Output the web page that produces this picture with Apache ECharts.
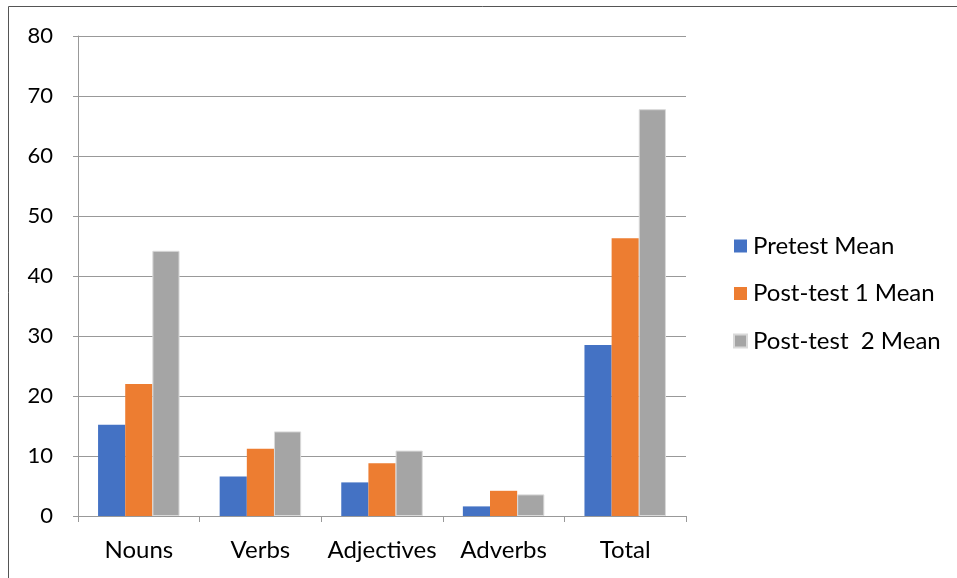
<!DOCTYPE html>
<html><head><meta charset="utf-8">
<script src="https://cdn.jsdelivr.net/npm/echarts@6/dist/echarts.min.js"></script>
<style>html,body{margin:0;padding:0;background:#fff}#c{width:957px;height:578px}</style>
</head><body><div id="c"></div>
<script>
const categories = ['Nouns', 'Verbs', 'Adjectives', 'Adverbs', 'Total'];
const pretest = [15.2, 6.6, 5.6, 1.6, 28.5];
const post1 = [22.0, 11.2, 8.8, 4.2, 46.3];
const post2 = [44.2, 14.1, 10.9, 3.6, 67.8];
const seriesNames = ['Pretest Mean', 'Post-test 1 Mean', 'Post-test  2 Mean'];
const yTicks = [0, 10, 20, 30, 40, 50, 60, 70, 80];

const font = 'Lato, "Open Sans", sans-serif';
const chart = echarts.init(document.getElementById('c'));
const colors = ['#4472C4', '#ED7D31', '#A5A5A5'];
chart.setOption({
  animation: false,
  color: colors,
  grid: { left: 78, right: 271, top: 36, bottom: 62, containLabel: false },
  legend: {
    orient: 'vertical', left: 728, top: 229,
    itemWidth: 13, itemHeight: 13, itemGap: 23.5,
    icon: 'rect',
    textStyle: { fontFamily: font, fontSize: 24, lineHeight: 24, color: '#000', padding: [0,0,0,1] },
    data: seriesNames
  },
  xAxis: {
    type: 'category', data: categories,
    axisLine: { lineStyle: { color: '#999', width: 1 } },
    axisTick: { show: true, length: 6, lineStyle: { color: '#999' } },
    axisLabel: { fontFamily: font, fontSize: 24, color: '#000', margin: 22, interval: 0, hideOverlap: false }
  },
  yAxis: {
    type: 'value', min: yTicks[0], max: yTicks[yTicks.length-1], interval: 10,
    axisLine: { show: true, lineStyle: { color: '#999' } },
    axisTick: { show: true, length: 5, lineStyle: { color: '#999' } },
    splitLine: { lineStyle: { color: '#999', width: 1 } },
    axisLabel: { fontFamily: font, fontSize: 22, color: '#000', margin: 25 }
  },
  series: [
    { name: seriesNames[0], type: 'bar', data: pretest, barGap: '0%', barCategoryGap: '33%' },
    { name: seriesNames[1], type: 'bar', data: post1, barGap: '0%', barCategoryGap: '33%' },
    { name: seriesNames[2], type: 'bar', data: post2, barGap: '0%', barCategoryGap: '33%',
      itemStyle: { borderColor: '#d9d9d9', borderWidth: 1 } }
  ],
  graphic: [
    { type: 'line', shape: { x1: 8.5, y1: 6.5, x2: 957, y2: 6.5 }, style: { stroke: '#555', lineWidth: 1 } },
    { type: 'line', shape: { x1: 8.5, y1: 6.5, x2: 8.5, y2: 578 }, style: { stroke: '#555', lineWidth: 1 } }
  ]
});
</script></body></html>
